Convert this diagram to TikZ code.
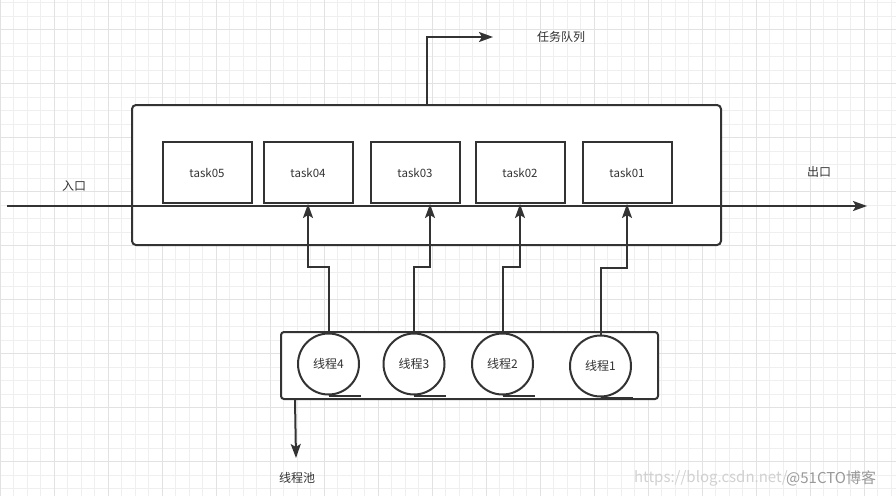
\documentclass[tikz,border=0pt]{standalone}
\usepackage{fontspec}
\setmainfont{Noto Sans CJK SC}
\usetikzlibrary{arrows.meta}
\definecolor{ink}{HTML}{333333}
\definecolor{gridminor}{HTML}{EFEFEF}
\definecolor{gridmajor}{HTML}{E2E2E2}
\tikzset{
  minorline/.style={draw=gridminor, line width=1pt},
  majorline/.style={draw=gridmajor, line width=1pt},
  queuebox/.style={draw=ink, fill=white, line width=2pt, rounded corners=4pt, minimum width=589pt, minimum height=140pt, inner sep=0pt},
  taskbox/.style={draw=ink, fill=white, line width=2pt, minimum width=89pt, minimum height=61pt, inner sep=0pt, text=ink, font=\fontsize{11.5}{13}\selectfont},
  poolbox/.style={draw=ink, fill=white, line width=2pt, rounded corners=3pt, minimum width=377pt, minimum height=67pt, inner sep=0pt},
  thread/.style={draw=ink, fill=white, circle, line width=2pt, minimum size=61pt, inner sep=0pt, text=ink, font=\fontsize{12}{14}\selectfont},
  lbl/.style={text=ink, font=\fontsize{12}{14}\selectfont, inner sep=0pt},
  conn/.style={draw=ink, line width=2pt},
  arr/.style={draw=ink, line width=2pt, -{Stealth[length=14pt,width=10pt,inset=3pt]}},
  tapeline/.style={draw=ink, line width=2pt},
}
\begin{document}
\begin{tikzpicture}[x=1pt,y=-1pt]
\useasboundingbox (0,0) rectangle (896,496);
\fill[white] (0,0) rectangle (896,496);
% grid
\foreach \i in {0,...,66} \draw[minorline] (\i*13.5,0) -- (\i*13.5,496);
\foreach \i in {0,...,36} \draw[minorline] (0,2.7+\i*13.5) -- (896,2.7+\i*13.5);
\foreach \i in {0,...,16} \draw[majorline] (\i*54,0) -- (\i*54,496);
\foreach \i in {0,...,8} \draw[majorline] (0,29.7+\i*54) -- (896,29.7+\i*54);

% task queue
\node[queuebox] (queue) at (426.5,175) {};
\node[taskbox] (task05) at (207,172.5) {task05};
\node[taskbox] (task04) at (308,172.5) {task04};
\node[taskbox] (task03) at (415,172.5) {task03};
\node[taskbox] (task02) at (520,172.5) {task02};
\node[taskbox] (task01) at (627,172.5) {task01};

% main flow line
\coordinate (in) at (7,206);
\coordinate (out) at (867,206);
\draw[arr] (in) -- (out);
\node[lbl] (inlbl) at (74,186) {入口};
\node[lbl] (outlbl) at (819,172) {出口};

% queue label arrow
\coordinate (qout) at (493,37);
\draw[arr] (queue.north) |- (qout);
\node[lbl] (qlbl) at (561,37) {任务队列};

% thread pool
\node[poolbox] (pool) at (469.5,365.5) {};
\node[thread] (t4) at (328.5,364) {线程4};
\node[thread] (t3) at (414,364) {线程3};
\node[thread] (t2) at (502.5,364) {线程2};
\node[thread] (t1) at (600.5,366) {线程1};
\foreach \t in {t4,t3,t2,t1} \draw[tapeline] (\t.south) -- ++(32,0);

% thread -> task arrows
\draw[arr] (t4.north) -- (t4.north |- 0,267) -| (task04.south);
\draw[arr] (t3.north) -- (t3.north |- 0,267) -| ([xshift=15pt]task03.south);
\draw[arr] (t2.north) -- (t2.north |- 0,267) -| (task02.south);
\draw[arr] (t1.north) -- (t1.north |- 0,268) -| (task01.south);

% pool label arrow
\coordinate (pout) at (296,458);
\draw[arr] ([xshift=15pt]pool.south west) -- (pout);
\node[lbl] (plbl) at (297,478) {线程池};

% watermark
\node[anchor=east, inner sep=0pt, text=black!18, font=\fontsize{15}{17}\selectfont] (wm1) at (788,478) {https://blog.csdn.net/};
\node[anchor=west, inner sep=0pt, text=black!40, font=\fontsize{15}{17}\selectfont] (wm2) at (786,478) {@51CTO博客};
\end{tikzpicture}
\end{document}
